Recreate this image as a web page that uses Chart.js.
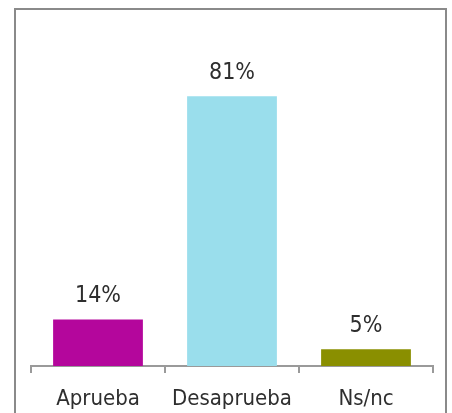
<!DOCTYPE html>
<html>
<head>
<meta charset="utf-8">
<script src="https://cdn.jsdelivr.net/npm/chart.js@4"></script>
<style>
	html, body { margin: 0; padding: 0; background: #fff; overflow: hidden; }
	#wrap { width: 452px; height: 413px; }
</style>
</head>
<body>
<div id="wrap"><canvas id="barChart" width="452" height="413"></canvas></div>
<script>
var categorias = ["Aprueba", "Desaprueba", "Ns/nc"];
var valores = [14, 81, 5];
var cores = ["#b4069c", "#9adeec", "#8a8f00"];

// moldura cinza em volta do gráfico
var moldura = {
	id: 'moldura',
	beforeDraw: function(chart) {
		var ctx = chart.ctx;
		ctx.save();
		ctx.strokeStyle = '#8a8a8a';
		ctx.lineWidth = 2;
		ctx.strokeRect(15, 9, 431, 420);
		ctx.restore();
	}
};

// rótulos de porcentagem em cima das barras
var rotulos = {
	id: 'rotulos',
	afterDatasetsDraw: function(chart) {
		var ctx = chart.ctx;
		var meta = chart.getDatasetMeta(0);
		ctx.save();
		ctx.font = '23px "DejaVu Sans Condensed", "DejaVu Sans", sans-serif';
		ctx.fillStyle = '#2e2e2e';
		ctx.textAlign = 'center';
		ctx.textBaseline = 'alphabetic';
		meta.data.forEach(function(bar, i) {
			ctx.fillText(valores[i] + '%', bar.x, bar.y - 17);
		});
		ctx.restore();
	}
};

window.onload = function(e) {
	var ctx = document.getElementById("barChart").getContext('2d');
	var barChart = new Chart(ctx, {
		type: 'bar',
		data: {
			labels: categorias,
			datasets: [{
				data: valores,
				backgroundColor: cores,
				barPercentage: 0.67,
				categoryPercentage: 1.0
			}]
		},
		plugins: [moldura, rotulos],
		options: {
			responsive: false,
			animation: false,
			layout: { padding: { top: 33, left: 31, right: 19, bottom: 0 } },
			plugins: {
				legend: { display: false },
				tooltip: { enabled: false }
			},
			scales: {
				x: {
					afterFit: function(scale) { scale.height = 47; },
					grid: {
						offset: true,
						drawOnChartArea: false,
						tickLength: 7,
						color: '#9a9a9a',
						lineWidth: 2
					},
					border: { color: '#9a9a9a', width: 2 },
					ticks: {
						color: '#2e2e2e',
						padding: 13,
						font: { family: '"DejaVu Sans Condensed", "DejaVu Sans", sans-serif', size: 22 }
					}
				},
				y: {
					display: false,
					min: 0,
					max: 100
				}
			}
		}
	});
}
</script>
</body>
</html>
